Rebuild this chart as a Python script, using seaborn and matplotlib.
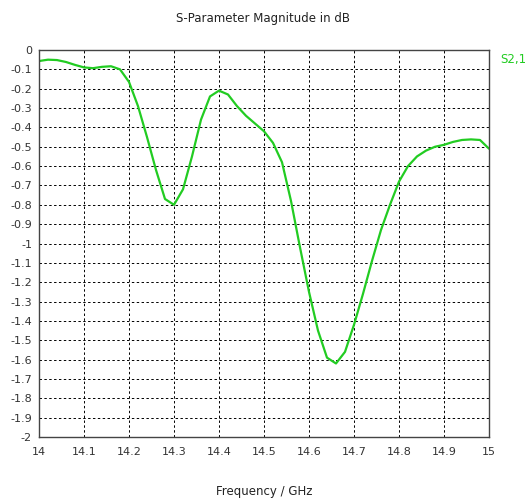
import matplotlib
matplotlib.use("Agg")
import matplotlib.pyplot as plt
import seaborn as sns
import pandas as pd
import numpy as np

freq = [14.00, 14.02, 14.04, 14.06, 14.08, 14.10, 14.12, 14.14, 14.16, 14.18, 14.20,
        14.22, 14.24, 14.26, 14.28, 14.30, 14.32, 14.34, 14.36, 14.38, 14.40,
        14.42, 14.44, 14.46, 14.48, 14.50, 14.52, 14.54, 14.56, 14.58, 14.60,
        14.62, 14.64, 14.66, 14.68, 14.70, 14.72, 14.74, 14.76, 14.78, 14.80,
        14.82, 14.84, 14.86, 14.88, 14.90, 14.92, 14.94, 14.96, 14.98, 15.00]
s21 = [-0.057, -0.050, -0.052, -0.062, -0.077, -0.090, -0.094, -0.087, -0.084, -0.10, -0.165,
       -0.29, -0.45, -0.62, -0.77, -0.80, -0.72, -0.55, -0.36, -0.24, -0.21,
       -0.23, -0.29, -0.34, -0.38, -0.42, -0.48, -0.58, -0.78, -1.02, -1.25,
       -1.45, -1.59, -1.62, -1.56, -1.42, -1.26, -1.09, -0.93, -0.80, -0.68,
       -0.60, -0.55, -0.52, -0.50, -0.49, -0.475, -0.465, -0.462, -0.465, -0.51]

yticks = [round(-0.1 * i, 1) for i in range(21)]
ylabels = ["0"] + [("%g" % v) for v in yticks[1:]]
xticks = [14.0, 14.1, 14.2, 14.3, 14.4, 14.5, 14.6, 14.7, 14.8, 14.9, 15.0]
xlabels = ["14", "14.1", "14.2", "14.3", "14.4", "14.5", "14.6", "14.7", "14.8", "14.9", "15"]

df = pd.DataFrame({"freq": freq, "s21": s21})

sns.set_style("white")
plt.rcParams['font.family'] = ['DejaVu Sans']
fig = plt.figure(figsize=(5.25, 5.0), dpi=100)
ax = fig.add_axes([39/525, 63/500, 450/525, 387/500])
sns.lineplot(data=df, x="freq", y="s21", ax=ax, color="#22cc22", linewidth=1.6)

ax.set_xlim(14, 15)
ax.set_ylim(-2, 0)
ax.set_xticks(xticks)
ax.set_xticklabels(xlabels)
ax.set_yticks(yticks)
ax.set_yticklabels(ylabels)
ax.tick_params(axis="both", labelsize=8, colors="#333333", length=3, width=0.8,
               direction="out", pad=2)
ax.tick_params(axis="x", pad=4)
ax.grid(True, color="black", linestyle=(0, (2.5, 2.5)), linewidth=0.7)
for s in ax.spines.values():
    s.set_color("#444444")
    s.set_linewidth(1.0)
ax.set_xlabel("Frequency / GHz", fontsize=8.5, labelpad=20, color="#222222")
ax.set_ylabel("")
fig.text(0.5, 0.963, "S-Parameter Magnitude in dB", ha="center", va="center", fontsize=8.5,
         color="#222222")
fig.text(500/525, 1 - 60/500, "S2,1", ha="left", va="center", fontsize=8.5, color="#22cc22")

fig.savefig("out.png", dpi=100)
